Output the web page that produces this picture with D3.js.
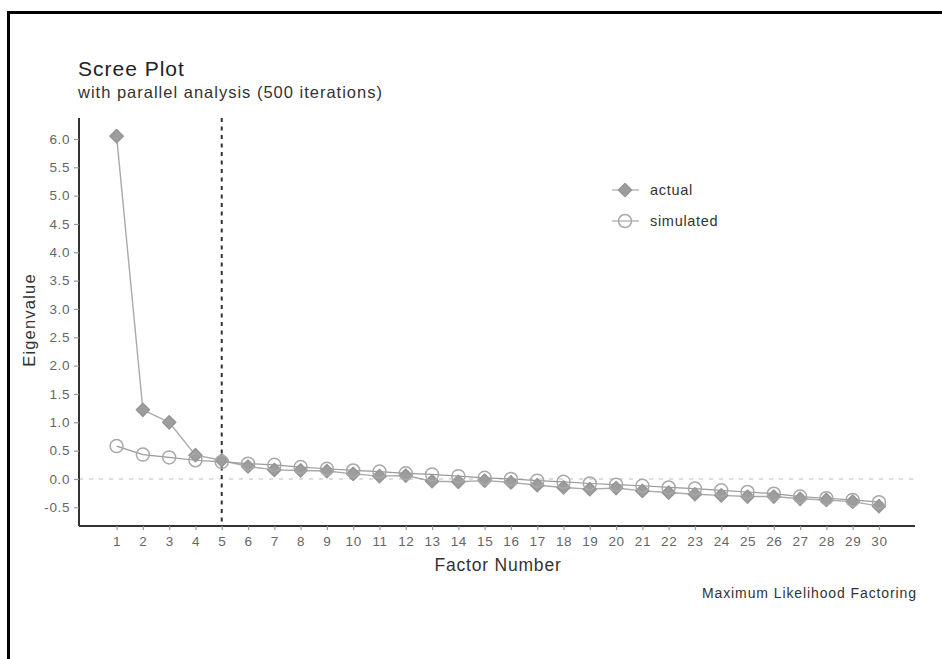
<!DOCTYPE html>
<html>
<head>
<meta charset="utf-8">
<script src="https://cdn.jsdelivr.net/npm/d3@7"></script>
<style>
  body { margin: 0; background: #fff; }
  text { font-family: "Liberation Sans", Arial, sans-serif; }
</style>
</head>
<body>
<div id="chart"></div>
<script>
// data
var factors = d3.range(1, 31)
var actual = [6.05, 1.22, 1.00, 0.42, 0.33, 0.22, 0.16, 0.15, 0.14, 0.09,
              0.05, 0.06, -0.04, -0.05, -0.03, -0.06, -0.11, -0.15, -0.18, -0.16,
              -0.21, -0.24, -0.27, -0.29, -0.31, -0.31, -0.35, -0.37, -0.40, -0.48]
var simulated = [0.58, 0.43, 0.38, 0.33, 0.30, 0.27, 0.25, 0.21, 0.18, 0.15,
                 0.13, 0.10, 0.08, 0.05, 0.02, 0.00, -0.03, -0.05, -0.08, -0.10,
                 -0.12, -0.15, -0.17, -0.20, -0.23, -0.26, -0.31, -0.34, -0.37, -0.41]
var yTicks = d3.range(-0.5, 6.01, 0.5)
var legendLabels = ["actual", "simulated"]
var nFactors = 5

var W = 942, H = 659
var svg = d3.select("#chart").append("svg")
    .attr("width", W).attr("height", H)

// frame round the picture
svg.append("rect").attr("x", 8.5).attr("y", 12.5)
    .attr("width", 1200).attr("height", 1200)
    .attr("fill", "none").attr("stroke", "#000").attr("stroke-width", 3)

var panel = {left: 79, right: 915, top: 118, bottom: 526}

var xScale = d3.scaleLinear().domain([-0.43, 31.37]).range([panel.left, panel.right]),
    yScale = d3.scaleLinear().domain([-0.83, 6.37]).range([panel.bottom, panel.top])

// zero reference line
svg.append("line")
    .attr("x1", panel.left).attr("x2", panel.right)
    .attr("y1", yScale(0)).attr("y2", yScale(0))
    .attr("stroke", "#d2d2d2").attr("stroke-width", 1.6)
    .attr("stroke-dasharray", "4,6")

// axes
var yAxis = d3.axisLeft(yScale).tickValues(yTicks)
    .tickFormat(function(d){ return d.toFixed(1) }).tickSize(5).tickPadding(4)
var xAxis = d3.axisBottom(xScale).tickValues(factors).tickSize(4).tickPadding(6)

var gy = svg.append("g").attr("transform", "translate(" + panel.left + ",0)").call(yAxis)
var gx = svg.append("g").attr("transform", "translate(0," + panel.bottom + ")").call(xAxis)

;[gx, gy].forEach(function(g){
  g.select(".domain").attr("stroke", "#333").attr("stroke-width", 2)
  g.selectAll(".tick line").attr("stroke", "#999").attr("stroke-width", 1.2)
  g.selectAll(".tick text").attr("fill", "#666")
    .style("font-size", "13.5px").style("letter-spacing", "0.6px")
})
gy.select(".domain").attr("d", "M0," + panel.top + "V" + panel.bottom)
gx.select(".domain").attr("d", "M" + panel.left + ",0H" + panel.right)

// number of factors cut-off
svg.append("line")
    .attr("x1", xScale(nFactors)).attr("x2", xScale(nFactors))
    .attr("y1", panel.top).attr("y2", panel.bottom)
    .attr("stroke", "#333").attr("stroke-width", 2)
    .attr("stroke-dasharray", "4,4.5")

var line = d3.line()
    .x(function(d, i){ return xScale(factors[i]) })
    .y(function(d){ return yScale(d) })

svg.append("path").attr("d", line(actual))
    .attr("fill", "none").attr("stroke", "#aaa").attr("stroke-width", 1.4)
svg.append("path").attr("d", line(simulated))
    .attr("fill", "none").attr("stroke", "#999").attr("stroke-width", 1.2)

var diamond = d3.symbol().type(d3.symbolDiamond2).size(110)

svg.selectAll(".actual").data(actual).enter().append("path")
    .attr("class", "actual")
    .attr("d", diamond)
    .attr("transform", function(d, i){ return "translate(" + xScale(factors[i]) + "," + yScale(d) + ")" })
    .attr("fill", "#9d9d9d").attr("stroke", "#969696").attr("stroke-width", 1.5)
    .attr("stroke-linejoin", "round")

svg.selectAll(".sim").data(simulated).enter().append("circle")
    .attr("class", "sim")
    .attr("cx", function(d, i){ return xScale(factors[i]) })
    .attr("cy", function(d){ return yScale(d) })
    .attr("r", 6.5)
    .attr("fill", "none").attr("stroke", "#a8a8a8").attr("stroke-width", 1.5)

// legend
var legend = svg.append("g").attr("transform", "translate(625,190)")
legendLabels.forEach(function(lab, i){
  var g = legend.append("g").attr("transform", "translate(0," + (i * 31) + ")")
  g.append("line").attr("x1", -13).attr("x2", 14)
      .attr("stroke", "#a8a8a8").attr("stroke-width", 1.2)
  if (i == 0) {
    g.append("path").attr("d", diamond).attr("fill", "#9d9d9d")
      .attr("stroke", "#969696").attr("stroke-width", 1.5).attr("stroke-linejoin", "round")
  } else {
    g.append("circle").attr("r", 6.5).attr("fill", "none")
      .attr("stroke", "#a8a8a8").attr("stroke-width", 1.5)
  }
  g.append("text").attr("x", 25).attr("y", 5).text(lab)
      .style("font-size", "14.5px").style("letter-spacing", "0.7px").attr("fill", "#333")
})

// titles
svg.append("text").attr("x", 78).attr("y", 76).text("Scree Plot")
    .style("font-size", "21px").style("letter-spacing", "1px").attr("fill", "#222")
svg.append("text").attr("x", 78).attr("y", 98).text("with parallel analysis (500 iterations)")
    .style("font-size", "16.5px").style("letter-spacing", "1px").attr("fill", "#333")

svg.append("text").attr("x", 498).attr("y", 571)
    .attr("text-anchor", "middle").text("Factor Number")
    .style("font-size", "17.5px").style("letter-spacing", "0.8px").attr("fill", "#333")

svg.append("text").attr("x", -320).attr("y", 35)
    .attr("transform", "rotate(270)")
    .attr("text-anchor", "middle").text("Eigenvalue")
    .style("font-size", "16.5px").style("letter-spacing", "1.2px").attr("fill", "#333")

svg.append("text").attr("x", 917).attr("y", 598)
    .attr("text-anchor", "end").text("Maximum Likelihood Factoring")
    .style("font-size", "14px").style("letter-spacing", "0.9px").attr("fill", "#333")
</script>
</body>
</html>
